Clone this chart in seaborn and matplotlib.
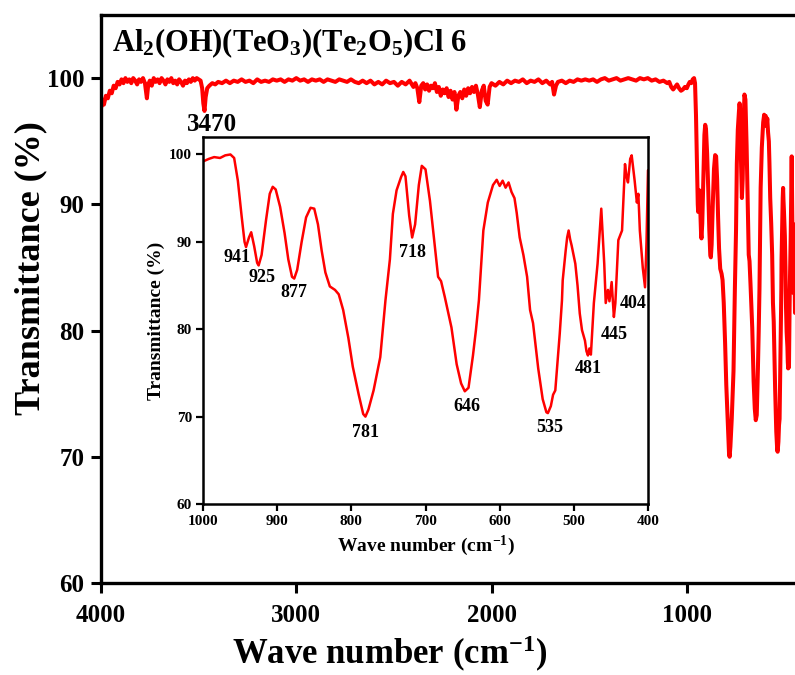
import numpy as np
import pandas as pd
import matplotlib
matplotlib.use("Agg")
import matplotlib.pyplot as plt
import seaborn as sns

# ---------------- data ----------------
# Main spectrum 4000-1010 cm-1
main_wn = [4000, 3992, 3985, 3975, 3965, 3955, 3945, 3935, 3925, 3915, 3905, 3895, 3885, 3875,
           3865, 3855, 3845, 3835, 3825, 3815, 3805, 3795, 3785, 3775, 3765, 3758, 3750, 3740,
           3730, 3720, 3710, 3700, 3690, 3680, 3670, 3660, 3650, 3640, 3630, 3620, 3610, 3600,
           3590, 3580, 3570, 3560, 3550, 3540, 3530, 3520, 3510, 3500, 3490, 3482, 3476, 3470,
           3464, 3456, 3445, 3430, 3415, 3400, 3380, 3360, 3340, 3320, 3300, 3280, 3260, 3240,
           3220, 3200, 3180, 3160, 3140, 3120, 3100, 3080, 3060, 3040, 3020, 3000, 2980, 2960,
           2940, 2920, 2900, 2880, 2860, 2840, 2820, 2800, 2780, 2760, 2740, 2720, 2700, 2680,
           2660, 2640, 2620, 2600, 2580, 2560, 2540, 2520, 2500, 2480, 2460, 2440, 2420, 2400,
           2390, 2380, 2370, 2360, 2350, 2340, 2330, 2320, 2310, 2300, 2290, 2280, 2270, 2260,
           2250, 2240, 2230, 2220, 2210, 2200, 2190, 2180, 2170, 2160, 2150, 2140, 2130, 2120,
           2110, 2100, 2090, 2080, 2070, 2060, 2050, 2040, 2030, 2020, 2010, 2000, 1980, 1960,
           1940, 1920, 1900, 1880, 1860, 1840, 1820, 1800, 1780, 1760, 1740, 1720, 1700, 1690,
           1680, 1670, 1660, 1640, 1620, 1600, 1580, 1560, 1540, 1520, 1500, 1480, 1460, 1440,
           1420, 1400, 1380, 1360, 1340, 1320, 1300, 1280, 1260, 1240, 1220, 1200, 1180, 1160,
           1140, 1120, 1100, 1090, 1080, 1070, 1060, 1050, 1040, 1030, 1020, 1010]
main_T = [97.6, 98.3, 97.9, 98.6, 98.4, 99.0, 98.8, 99.4, 99.2, 99.7, 99.5, 99.9, 99.6, 100.0,
          99.7, 99.9, 99.6, 100.0, 99.8, 99.5, 99.9, 99.7, 100.0, 99.6, 98.4, 99.5, 99.8, 99.4,
          100.0, 99.7, 99.9, 99.6, 100.0, 99.8, 99.5, 99.9, 99.7, 100.0, 99.6, 99.8, 99.5, 99.9,
          99.7, 99.4, 99.8, 99.6, 99.9, 99.7, 100.0, 99.8, 100.0, 99.9, 99.8, 99.2, 98.0, 97.4,
          98.5, 99.2, 99.4, 99.6, 99.5, 99.7, 99.6, 99.8, 99.6, 99.8, 99.7, 99.9, 99.7, 99.8,
          99.6, 99.9, 99.7, 99.8, 99.7, 99.9, 99.8, 99.9, 99.7, 99.9, 99.8, 100.0, 99.8, 99.9,
          99.7, 99.9, 99.8, 99.9, 99.7, 99.9, 99.8, 99.7, 99.9, 99.8, 99.7, 99.9, 99.7, 99.6,
          99.8, 99.6, 99.8, 99.5, 99.7, 99.5, 99.8, 99.6, 99.7, 99.4, 99.7, 99.5, 99.8, 99.3,
          99.6, 99.2, 98.1, 99.4, 99.6, 99.1, 99.5, 99.0, 99.4, 99.2, 99.6, 98.9, 99.3, 98.6,
          99.1, 98.8, 99.2, 98.5, 99.0, 98.3, 98.9, 97.5, 98.6, 98.9, 98.4, 99.1, 98.6, 99.2,
          98.8, 99.3, 98.9, 99.4, 98.7, 97.7, 99.0, 99.4, 98.2, 97.9, 99.3, 99.6, 99.4, 99.7,
          99.5, 99.8, 99.6, 99.8, 99.7, 99.9, 99.6, 99.8, 99.7, 99.9, 99.6, 99.8, 99.5, 99.7,
          98.7, 99.4, 99.7, 99.8, 99.6, 99.8, 99.7, 99.9, 99.8, 99.9, 99.8, 99.9, 99.7, 99.9,
          100.0, 99.8, 99.9, 100.0, 99.8, 99.9, 100.0, 99.9, 99.8, 100.0, 99.9, 100.0, 99.8, 99.9,
          99.7, 99.8, 99.6, 99.7, 99.3, 99.1, 99.3, 99.5, 99.2, 99.0, 99.1, 99.3]

# Fingerprint region 1000-400 cm-1 (inset, also the right end of the main curve)
fp_wn = [1000, 992, 985, 977, 970, 963, 958, 953, 948, 944, 942, 938, 935, 931, 927, 925, 921,
         915, 910, 906, 902, 896, 890, 885, 880, 877, 873, 867, 861, 855, 850, 845, 840, 835,
         829, 822, 817, 811, 804, 798, 790, 784, 781, 777, 770, 761, 754, 748, 744, 739, 733,
         730, 727, 722, 718, 714, 709, 705, 700, 694, 688, 683, 679, 674, 665, 658, 652, 647,
         642, 636, 632, 628, 622, 616, 609, 604, 600, 596, 592, 588, 584, 580, 577, 573, 568,
         563, 559, 555, 548, 542, 537, 535, 531, 528, 525, 519, 516, 515, 511, 509, 507, 505,
         503, 498, 495, 492, 489, 485, 483, 481, 479, 477, 474, 473, 468, 463, 459, 457, 454,
         452, 449, 446, 444, 440, 435, 431, 429, 427, 424, 422, 420, 418, 415, 413, 411, 407,
         404, 402, 400]
fp_T = [99.2, 99.5, 99.7, 99.6, 99.9, 100.0, 99.6, 97.0, 93.0, 90.0, 89.4, 90.5, 91.1, 89.5,
        87.6, 87.3, 88.5, 92.5, 95.5, 96.3, 96.0, 94.0, 91.0, 88.0, 86.0, 85.8, 86.8, 90.0,
        92.8, 93.9, 93.8, 92.0, 89.0, 86.5, 84.9, 84.5, 84.0, 82.2, 79.0, 75.7, 72.5, 70.3,
        70.0, 70.8, 73.0, 76.8, 83.3, 88.0, 93.2, 95.9, 97.4, 98.0, 97.5, 93.0, 90.5, 92.0,
        96.5, 98.7, 98.3, 94.7, 90.0, 86.0, 85.5, 83.7, 80.2, 76.0, 73.8, 72.9, 73.3, 77.0,
        79.9, 83.3, 91.3, 94.5, 96.5, 97.1, 96.4, 97.0, 96.2, 96.8, 95.7, 95.0, 93.3, 90.5,
        88.5, 86.0, 82.2, 80.7, 75.5, 72.0, 70.5, 70.4, 71.2, 72.5, 73.0, 79.5, 83.3, 85.6,
        89.0, 90.5, 91.3, 90.3, 89.6, 87.5, 85.0, 81.8, 79.9, 78.7, 77.5, 77.0, 77.8, 77.1,
        81.4, 83.0, 87.5, 93.8, 87.5, 83.0, 84.5, 83.2, 85.4, 81.4, 83.0, 90.2, 91.3, 98.9,
        97.5, 96.8, 99.5, 99.9, 98.5, 97.0, 94.5, 95.5, 91.3, 87.0, 84.8, 90.0, 98.2]

peak_labels = ["941", "925", "877", "781", "718", "646", "535", "481", "445", "404"]
peak_label_x = [954, 920, 878, 781, 717, 644, 532, 481, 445, 420]
peak_label_y = [88.2, 85.9, 84.2, 68.2, 88.8, 71.2, 68.7, 75.5, 79.4, 82.9]

main_xticks = [4000, 3000, 2000, 1000]
main_yticks = [60, 70, 80, 90, 100]
inset_xticks = [1000, 900, 800, 700, 600, 500, 400]
inset_yticks = [60, 70, 80, 90, 100]

title_text = r"Al$_2$(OH)(TeO$_3$)(Te$_2$O$_5$)Cl 6"
oh_label = "3470"
RED = "#ff0000"

# ---------------- style ----------------
sns.set_style("ticks")
plt.rcParams["font.family"] = ["Liberation Serif", "DejaVu Serif"]
plt.rcParams["font.weight"] = "bold"
plt.rcParams["mathtext.fontset"] = "custom"
plt.rcParams["mathtext.rm"] = "Liberation Serif:bold"
plt.rcParams["mathtext.it"] = "Liberation Serif:bold"
plt.rcParams["mathtext.bf"] = "Liberation Serif:bold"
plt.rcParams["axes.unicode_minus"] = True
for k in ["text.color", "axes.labelcolor", "xtick.color", "ytick.color", "axes.edgecolor"]:
    plt.rcParams[k] = "black"

main_df = pd.DataFrame({"wn": main_wn + fp_wn, "T": main_T + fp_T})
fp_df = pd.DataFrame({"wn": fp_wn, "T": fp_T})

fig = plt.figure(figsize=(7.95, 6.75), dpi=100)
ax = fig.add_axes([101 / 795, 1 - 583 / 675, (804 - 101) / 795, (583 - 15) / 675])

sns.lineplot(data=main_df, x="wn", y="T", ax=ax, color=RED, linewidth=2.9,
             sort=False, estimator=None)
ax.set_xlim(4000, 400)
ax.set_ylim(60, 105)
ax.set_xticks(main_xticks)
ax.set_yticks(main_yticks)
ax.tick_params(axis="both", direction="out", length=7, width=2.2, labelsize=18,
               colors="black")
ax.tick_params(axis="x", pad=8)
ax.tick_params(axis="y", pad=5)
for lab in ax.get_xticklabels() + ax.get_yticklabels():
    lab.set_fontweight("bold")
for sp in ax.spines.values():
    sp.set_linewidth(2.4)
    sp.set_color("black")
ax.set_xlabel(r"Wave number (cm$^{-1}$)", fontsize=25, fontweight="bold")
ax.set_ylabel("Transmittance (%)", fontsize=26, fontweight="bold")
ax.xaxis.set_label_coords(0.411, -0.089)
ax.yaxis.set_label_coords(-0.077, 0.555)
ax.text(3944, 102.8, title_text, fontsize=22, fontweight="bold", ha="left", va="center")
ax.text(3432, 96.35, oh_label, fontsize=18, fontweight="bold", ha="center", va="center")

# ---------------- inset ----------------
ins = fig.add_axes([203 / 795, 1 - 504 / 675, 445 / 795, 367 / 675])
ins.set_facecolor("white")
sns.lineplot(data=fp_df, x="wn", y="T", ax=ins, color=RED, linewidth=1.8,
             sort=False, estimator=None)
ins.set_xlim(1000, 400)
ins.set_ylim(60, 102)
ins.set_xticks(inset_xticks)
ins.set_yticks(inset_yticks)
ins.tick_params(axis="both", direction="out", length=5, width=1.6, labelsize=11, pad=3,
                colors="black")
for lab in ins.get_xticklabels() + ins.get_yticklabels():
    lab.set_fontweight("bold")
for sp in ins.spines.values():
    sp.set_linewidth(1.8)
    sp.set_color("black")
ins.set_xlabel(r"Wave number (cm$^{-1}$)", fontsize=14, fontweight="bold", labelpad=4)
ins.set_ylabel("Transmittance (%)", fontsize=14, fontweight="bold", labelpad=3)
for t, x, y in zip(peak_labels, peak_label_x, peak_label_y):
    ins.text(x, y, t, fontsize=13, fontweight="bold", ha="center", va="center")

fig.savefig("out.png", dpi=100)
